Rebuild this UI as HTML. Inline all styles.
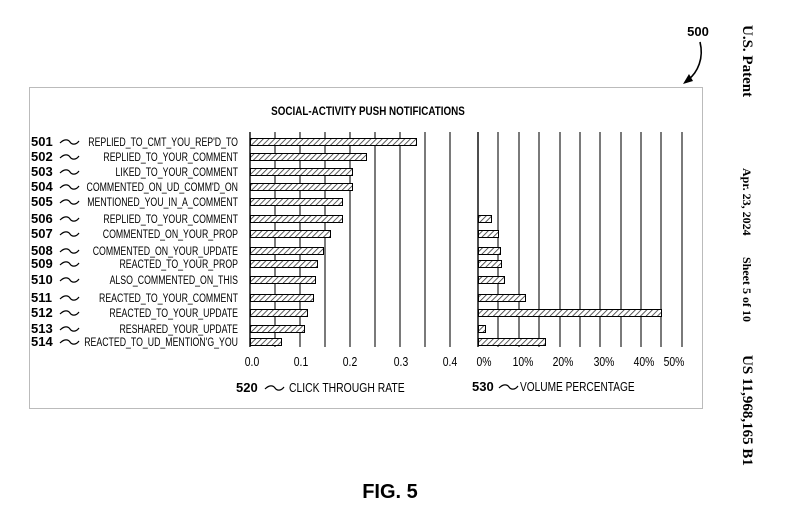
<!DOCTYPE html>
<html><head><meta charset="utf-8"><style>
html,body{margin:0;padding:0;background:#fff;}
svg{display:block;}
</style></head><body>
<svg width="796" height="528" viewBox="0 0 796 528" xmlns="http://www.w3.org/2000/svg" font-family="Liberation Sans, sans-serif">
<defs>
<pattern id="h" width="4" height="4" patternUnits="userSpaceOnUse" patternTransform="rotate(45)">
<rect width="4" height="4" fill="#fff"/><line x1="0" y1="0" x2="0" y2="4" stroke="#333" stroke-width="1.6"/>
</pattern>
<path id="t" d="M0 0 C4 -4 8 -4 10 -1 C12 2 16 2 19 -2" fill="none" stroke="#000" stroke-width="1.2"/>
</defs>
<rect x="29.5" y="87.5" width="673" height="321" fill="none" stroke="#bbb" stroke-width="1"/>
<text x="698" y="36" font-size="13" font-weight="bold" text-anchor="middle">500</text>
<path d="M700 42 C704 58 698 72 688 80" fill="none" stroke="#000" stroke-width="1.6"/>
<polygon points="683,84 689,74 693,81" fill="#000"/>
<text transform="translate(368,115) scale(0.82,1)" font-size="12" font-weight="bold" text-anchor="middle">SOCIAL-ACTIVITY PUSH NOTIFICATIONS</text>
<g stroke="#222" stroke-width="1.2">
<line x1="250" y1="132" x2="250" y2="347" stroke-width="1.6"/>
<line x1="275" y1="132" x2="275" y2="347"/><line x1="300" y1="132" x2="300" y2="347"/>
<line x1="325" y1="132" x2="325" y2="347"/><line x1="350" y1="132" x2="350" y2="347"/>
<line x1="375" y1="132" x2="375" y2="347"/><line x1="400" y1="132" x2="400" y2="347"/>
<line x1="425" y1="132" x2="425" y2="347"/><line x1="450" y1="132" x2="450" y2="347"/>
<line x1="478" y1="132" x2="478" y2="347" stroke-width="1.6"/>
<line x1="498" y1="132" x2="498" y2="347"/><line x1="519" y1="132" x2="519" y2="347"/>
<line x1="539" y1="132" x2="539" y2="347"/><line x1="560" y1="132" x2="560" y2="347"/>
<line x1="580" y1="132" x2="580" y2="347"/><line x1="600" y1="132" x2="600" y2="347"/>
<line x1="621" y1="132" x2="621" y2="347"/><line x1="641" y1="132" x2="641" y2="347"/>
<line x1="661" y1="132" x2="661" y2="347"/><line x1="682" y1="132" x2="682" y2="347"/>
</g>
<g fill="url(#h)" stroke="#000" stroke-width="1">
<rect x="250.5" y="138.5" width="166" height="7"/>
<rect x="250.5" y="153.5" width="116" height="7"/>
<rect x="250.5" y="168.5" width="102" height="7"/>
<rect x="250.5" y="183.5" width="102" height="7"/>
<rect x="250.5" y="198.5" width="92" height="7"/>
<rect x="250.5" y="215.5" width="92" height="7"/>
<rect x="250.5" y="230.5" width="80" height="7"/>
<rect x="250.5" y="247.5" width="73" height="7"/>
<rect x="250.5" y="260.5" width="67" height="7"/>
<rect x="250.5" y="276.5" width="65" height="7"/>
<rect x="250.5" y="294.5" width="63" height="7"/>
<rect x="250.5" y="309.5" width="57" height="7"/>
<rect x="250.5" y="325.5" width="54" height="7"/>
<rect x="250.5" y="338.5" width="31" height="7"/>
<rect x="478.5" y="215.5" width="13" height="7"/>
<rect x="478.5" y="230.5" width="20" height="7"/>
<rect x="478.5" y="247.5" width="22" height="7"/>
<rect x="478.5" y="260.5" width="23" height="7"/>
<rect x="478.5" y="276.5" width="26" height="7"/>
<rect x="478.5" y="294.5" width="47" height="7"/>
<rect x="478.5" y="309.5" width="183" height="7"/>
<rect x="478.5" y="325.5" width="7" height="7"/>
<rect x="478.5" y="338.5" width="67" height="7"/>
</g>
<g font-size="13" font-weight="bold">
<text x="31" y="146">501</text><text x="31" y="161">502</text><text x="31" y="176">503</text>
<text x="31" y="191">504</text><text x="31" y="206">505</text><text x="31" y="223">506</text>
<text x="31" y="238">507</text><text x="31" y="255">508</text><text x="31" y="268">509</text>
<text x="31" y="284">510</text><text x="31" y="302">511</text><text x="31" y="317">512</text>
<text x="31" y="333">513</text><text x="31" y="346">514</text>
</g>
<g>
<use href="#t" x="60" y="143"/><use href="#t" x="60" y="158"/><use href="#t" x="60" y="173"/>
<use href="#t" x="60" y="188"/><use href="#t" x="60" y="203"/><use href="#t" x="60" y="220"/>
<use href="#t" x="60" y="235"/><use href="#t" x="60" y="252"/><use href="#t" x="60" y="265"/>
<use href="#t" x="60" y="281"/><use href="#t" x="60" y="299"/><use href="#t" x="60" y="314"/>
<use href="#t" x="60" y="330"/><use href="#t" x="60" y="343"/>
</g>
<g font-size="12" text-anchor="end">
<text transform="translate(238,146) scale(0.73,1)">REPLIED_TO_CMT_YOU_REP'D_TO</text>
<text transform="translate(238,161) scale(0.73,1)">REPLIED_TO_YOUR_COMMENT</text>
<text transform="translate(238,176) scale(0.73,1)">LIKED_TO_YOUR_COMMENT</text>
<text transform="translate(238,191) scale(0.73,1)">COMMENTED_ON_UD_COMM'D_ON</text>
<text transform="translate(238,206) scale(0.73,1)">MENTIONED_YOU_IN_A_COMMENT</text>
<text transform="translate(238,223) scale(0.73,1)">REPLIED_TO_YOUR_COMMENT</text>
<text transform="translate(238,238) scale(0.73,1)">COMMENTED_ON_YOUR_PROP</text>
<text transform="translate(238,255) scale(0.73,1)">COMMENTED_ON_YOUR_UPDATE</text>
<text transform="translate(238,268) scale(0.73,1)">REACTED_TO_YOUR_PROP</text>
<text transform="translate(238,284) scale(0.73,1)">ALSO_COMMENTED_ON_THIS</text>
<text transform="translate(238,302) scale(0.73,1)">REACTED_TO_YOUR_COMMENT</text>
<text transform="translate(238,317) scale(0.73,1)">REACTED_TO_YOUR_UPDATE</text>
<text transform="translate(238,333) scale(0.73,1)">RESHARED_YOUR_UPDATE</text>
<text transform="translate(238,346) scale(0.73,1)">REACTED_TO_UD_MENTION'G_YOU</text>
</g>
<g font-size="13" text-anchor="middle">
<text transform="translate(252,366) scale(0.8,1)">0.0</text>
<text transform="translate(301,366) scale(0.8,1)">0.1</text>
<text transform="translate(350,366) scale(0.8,1)">0.2</text>
<text transform="translate(401,366) scale(0.8,1)">0.3</text>
<text transform="translate(450,366) scale(0.8,1)">0.4</text>
<text transform="translate(484,366) scale(0.8,1)">0%</text>
<text transform="translate(523,366) scale(0.8,1)">10%</text>
<text transform="translate(563,366) scale(0.8,1)">20%</text>
<text transform="translate(604,366) scale(0.8,1)">30%</text>
<text transform="translate(644,366) scale(0.8,1)">40%</text>
<text transform="translate(674,366) scale(0.8,1)">50%</text>
</g>
<text x="236" y="392" font-size="13" font-weight="bold">520</text>
<use href="#t" x="265" y="389"/>
<text transform="translate(289,392) scale(0.8,1)" font-size="13">CLICK THROUGH RATE</text>
<text x="472" y="391" font-size="13" font-weight="bold">530</text>
<use href="#t" x="499" y="388"/>
<text transform="translate(520,391) scale(0.78,1)" font-size="13">VOLUME PERCENTAGE</text>
<text x="390" y="498" font-size="20" font-weight="bold" text-anchor="middle">FIG. 5</text>
<g font-family="Liberation Serif, serif" font-weight="bold">
<text transform="translate(743,25) rotate(90)" font-size="15">U.S. Patent</text>
<text transform="translate(743,168) rotate(90)" font-size="12">Apr. 23, 2024</text>
<text transform="translate(743,257) rotate(90)" font-size="12">Sheet 5 of 10</text>
<text transform="translate(743,355) rotate(90)" font-size="15">US 11,968,165 B1</text>
</g>
</svg>
</body></html>
